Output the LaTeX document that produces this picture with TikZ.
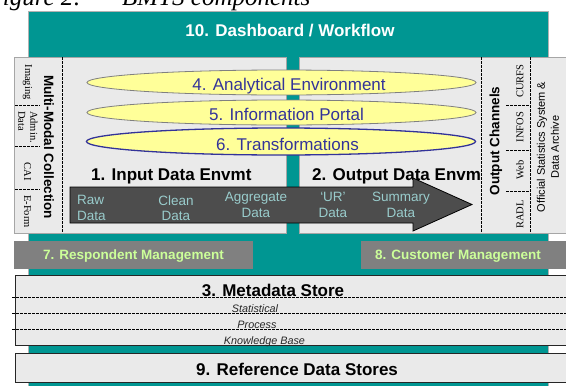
\documentclass[tikz,border=0pt]{standalone}
\usepackage{fontspec}
\setmainfont{Liberation Sans}
\newfontfamily\serifx{Liberation Serif}
\usetikzlibrary{shapes.geometric}
\definecolor{tealbg}{RGB}{0,150,146}
\definecolor{panelgrey}{RGB}{234,234,234}
\definecolor{ellyellow}{RGB}{255,255,153}
\definecolor{ellblue}{RGB}{51,51,153}
\definecolor{arrowgrey}{RGB}{77,77,77}
\definecolor{arrowtext}{RGB}{153,204,204}
\definecolor{mgmtgrey}{RGB}{128,128,128}
\definecolor{mgmttext}{RGB}{204,255,153}
\tikzset{
  bigbold/.style={font=\bfseries\fontsize{17}{20}\selectfont, inner sep=0pt},
  elltext/.style={font=\fontsize{17}{20}\selectfont, text=ellblue, inner sep=0pt, anchor=base},
  ellshape/.style={ellipse, fill=ellyellow, minimum width=389pt, minimum height=25pt, inner sep=0pt},
  arrowlbl/.style={font=\fontsize{13.5}{15.5}\selectfont, text=arrowtext, align=center, inner sep=0pt},
  midbold/.style={font=\bfseries\fontsize{13.5}{16}\selectfont, inner sep=0pt},
  smallserif/.style={font=\serifx\fontsize{10.5}{12}\selectfont, inner sep=0pt},
  metaitem/.style={font=\itshape\fontsize{10.8}{13}\selectfont, text=black!85, inner sep=0pt, anchor=base},
  dashline/.style={draw=black, line width=0.9pt, dash pattern=on 2.5pt off 1.5pt},
  panel/.style={fill=panelgrey, draw=gray!70, line width=0.6pt},
  storebox/.style={fill=panelgrey, draw=black!85, line width=0.9pt},
  mgmtbox/.style={fill=mgmtgrey, draw=none},
  mgmtlbl/.style={font=\bfseries\fontsize{13.5}{16}\selectfont, text=mgmttext, inner sep=0pt, anchor=base}
}
\begin{document}
\begin{tikzpicture}[x=1pt,y=-1pt]
\useasboundingbox (0,0) rectangle (566,386);
% title (cut off at top)
\node[anchor=base east, font=\serifx\itshape\fontsize{25}{28}\selectfont, inner sep=0pt] (figlabel) at (82,5) {Figure 2:};
\node[anchor=base west, font=\serifx\itshape\fontsize{25}{28}\selectfont, inner sep=0pt] (figtitle) at (122,5) {BMTS components};
% teal background / dashboard
\filldraw[fill=tealbg, draw=gray!60, line width=0.6pt] (28,11) rectangle (548,392);
\node[bigbold, text=white, anchor=base] (dashboard) at (290,36) {10. Dashboard / Workflow};
% panels
\filldraw[panel] (14,57) rectangle (286,233);
\filldraw[panel] (299,57) rectangle (572,233);
% dashed dividers
\draw[dashline] (62,57) -- (62,233);
\draw[dashline] (481,57) -- (481,233);
\draw[dashline] (530,57) -- (530,233);
\draw[dashline] (15,105) -- (40,105);
\draw[dashline] (15,146) -- (40,146);
\draw[dashline] (15,189) -- (40,189);
\draw[dashline] (506,105) -- (529,105);
\draw[dashline] (506,150) -- (529,150);
\draw[dashline] (506,191) -- (529,191);
% left column
\node[midbold, rotate=-90] (multimodal) at (49,147) {Multi-Modal Collection};
\node[smallserif, rotate=-90] (imaging) at (27.5,82) {Imaging};
\node[smallserif, rotate=-90, align=left] (admin) at (28,127) {Admin.\\Data};
\node[smallserif, rotate=-90] (cai) at (27.5,171.5) {CAI};
\node[smallserif, rotate=-90] (eform) at (27.5,211.5) {E-Form};
% right columns
\node[midbold, rotate=90] (outch) at (496,141) {Output Channels};
\node[smallserif, rotate=90] (curfs) at (520,81) {CURFS};
\node[smallserif, rotate=90] (infos) at (520,127) {INFOS};
\node[smallserif, rotate=90] (web) at (520,170) {Web};
\node[smallserif, rotate=90] (radl) at (520,214.5) {RADL};
\node[font=\fontsize{11}{14}\selectfont, rotate=90, align=center, inner sep=0pt] (archive) at (548,147) {Official Statistics System \&\\Data Archive};
% ellipses
\node[ellshape, draw=gray, line width=0.8pt] (ell4) at (281.5,82.5) {};
\node[elltext] (analytical) at (289,90.5) {4. Analytical Environment};
\node[ellshape, draw=gray, line width=0.8pt] (ell5) at (281.5,112.5) {};
\node[elltext] (portal) at (286.5,120) {5. Information Portal};
\node[ellshape, draw=ellblue, line width=1.3pt, minimum height=27pt] (ell6) at (281,141.5) {};
\node[elltext] (transf) at (287.5,150) {6. Transformations};
% environments
\node[bigbold, anchor=base west] (inputenv) at (91,180) {1. Input Data Envmt};
\node[bigbold, anchor=base west] (outputenv) at (312,180) {2. Output Data Envm};
% block arrow
\filldraw[fill=arrowgrey, draw=black, line width=0.8pt]
  (70,187) -- (413,187) -- (413,178) -- (472,204.5) -- (413,231) -- (413,223) -- (70,223) -- cycle;
\node[arrowlbl, align=left, anchor=west] (raw) at (77,208) {Raw\\Data};
\node[arrowlbl] (clean) at (176,208) {Clean\\Data};
\node[arrowlbl] (aggr) at (256,205) {Aggregate\\Data};
\node[arrowlbl] (urdata) at (333,205) {‘UR’\\Data};
\node[arrowlbl] (summary) at (401,205) {Summary\\Data};
% management bars
\fill[mgmtbox] (14,241) rectangle (253,269);
\node[mgmtlbl] (respmgmt) at (133.5,259) {7. Respondent Management};
\fill[mgmtbox] (361,241) rectangle (572,269);
\node[mgmtlbl] (custmgmt) at (458,259) {8. Customer Management};
% metadata store
\filldraw[storebox] (15,275) rectangle (572,345);
\draw[dashline] (12,297) -- (572,297);
\draw[dashline] (12,313) -- (572,313);
\draw[dashline] (12,329) -- (572,329);
\node[bigbold, anchor=base] (metadata) at (273,296.5) {3. Metadata Store};
\node[metaitem] (statistical) at (255,312.5) {Statistical};
\node[metaitem] (process) at (257,328.5) {Process};
\node[metaitem] (knowledge) at (264.5,344) {Knowledge Base};
% reference data stores
\filldraw[storebox] (15,353) rectangle (572,382);
\node[bigbold, anchor=base] (refdata) at (297,375) {9. Reference Data Stores};
\end{tikzpicture}
\end{document}
